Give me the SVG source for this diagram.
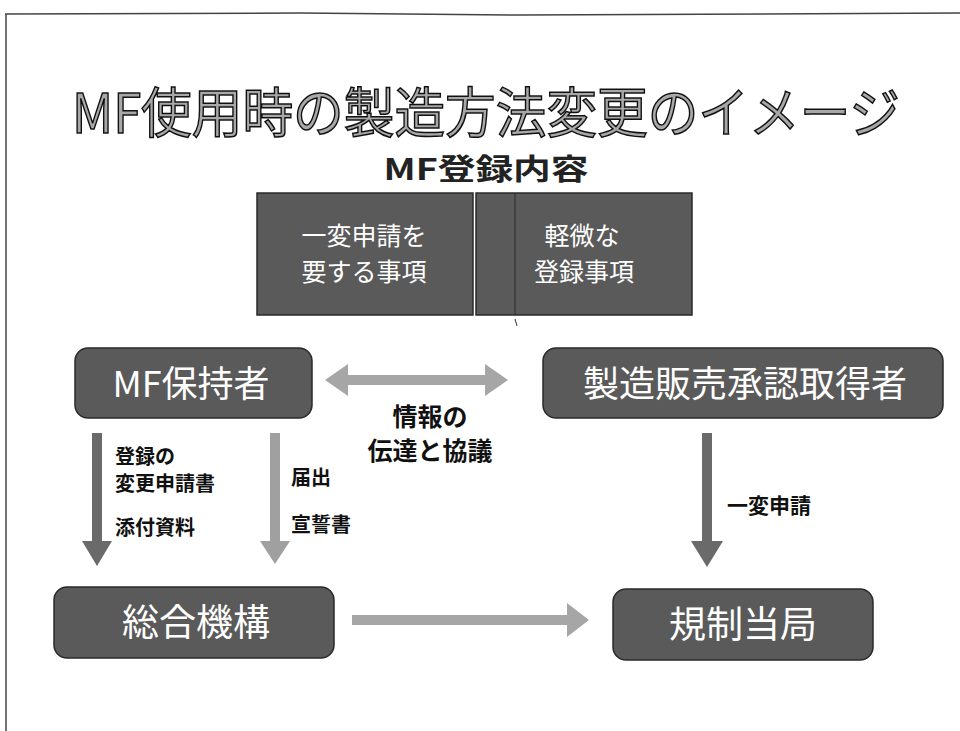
<svg xmlns="http://www.w3.org/2000/svg" width="960" height="731" viewBox="0 0 960 731">
<style>
.jp{font-family:"Noto Sans CJK JP","Noto Sans",sans-serif}
.box{fill:#5a5a5a;stroke:#2a2a2a;stroke-width:1.5}
.wt{fill:#fff;text-anchor:middle}
.lbl{fill:#111;font-weight:bold}
</style>
<rect width="960" height="731" fill="#fff"/>
<path d="M5 14 L300 13 L520 15 L960 13" fill="none" stroke="#444" stroke-width="1.5"/>
<line x1="6" y1="14" x2="6" y2="731" stroke="#444" stroke-width="1.5"/>
<text class="jp" x="486" y="133" font-size="54" text-anchor="middle" textLength="828" lengthAdjust="spacingAndGlyphs" fill="#a8a8a8" stroke="#111" stroke-width="1.5">MF使用時の製造方法変更のイメージ</text>
<text class="jp" x="486" y="180" font-size="29" font-weight="bold" text-anchor="middle" textLength="205" lengthAdjust="spacingAndGlyphs" fill="#222">MF登録内容</text>
<g id="reg1"><rect class="box" x="257" y="193" width="216" height="122"/><text class="jp wt" x="364" y="245" font-size="25">一変申請を</text><text class="jp wt" x="364" y="281" font-size="25">要する事項</text></g>
<g id="reg2"><rect class="box" x="476" y="193" width="216" height="122"/><line x1="515" y1="193" x2="515" y2="315" stroke="#2a2a2a" stroke-width="1"/><text class="jp wt" x="582" y="245" font-size="25">軽微な</text><text class="jp wt" x="584" y="281" font-size="25">登録事項</text></g>
<line x1="515" y1="319" x2="517" y2="326" stroke="#333" stroke-width="1"/>
<g id="mfh"><rect class="box" x="75" y="348" width="237" height="70" rx="13"/><text class="jp wt" x="191" y="397" font-size="36">MF保持者</text></g>
<g id="holder"><rect class="box" x="543" y="348" width="400" height="70" rx="13"/><text class="jp wt" x="745" y="397" font-size="36">製造販売承認取得者</text></g>
<g id="pmda"><rect class="box" x="54" y="587" width="280" height="71" rx="13"/><text class="jp wt" x="196" y="636" font-size="37">総合機構</text></g>
<g id="auth"><rect class="box" x="613" y="589" width="260" height="71" rx="13"/><text class="jp wt" x="743" y="638" font-size="37">規制当局</text></g>
<g id="connectors">
<polygon points="325,380 348,364 348,375 485,375 485,364 508,380 485,396 485,385 348,385 348,396" fill="#a6a6a6"/>
<polygon points="92,433 102,433 102,541 112,541 97,566 82,541 92,541" fill="#6a6a6a"/>
<polygon points="270,433 280,433 280,541 290,541 275,564 260,541 270,541" fill="#a0a0a0"/>
<polygon points="702,433 712,433 712,541 723,541 707,567 691,541 702,541" fill="#6a6a6a"/>
<polygon points="352,615 567,615 567,603 589,620 567,637 567,625 352,625" fill="#a6a6a6"/>
</g>
<g class="jp lbl">
<text x="430" y="426" font-size="25" text-anchor="middle">情報の</text>
<text x="430" y="460" font-size="25" text-anchor="middle">伝達と協議</text>
<text x="115" y="464" font-size="20">登録の</text>
<text x="115" y="491" font-size="20">変更申請書</text>
<text x="115" y="535" font-size="20">添付資料</text>
<text x="291" y="485" font-size="20">届出</text>
<text x="291" y="532" font-size="20">宣誓書</text>
<text x="727" y="513" font-size="21">一変申請</text>
</g>
</svg>
